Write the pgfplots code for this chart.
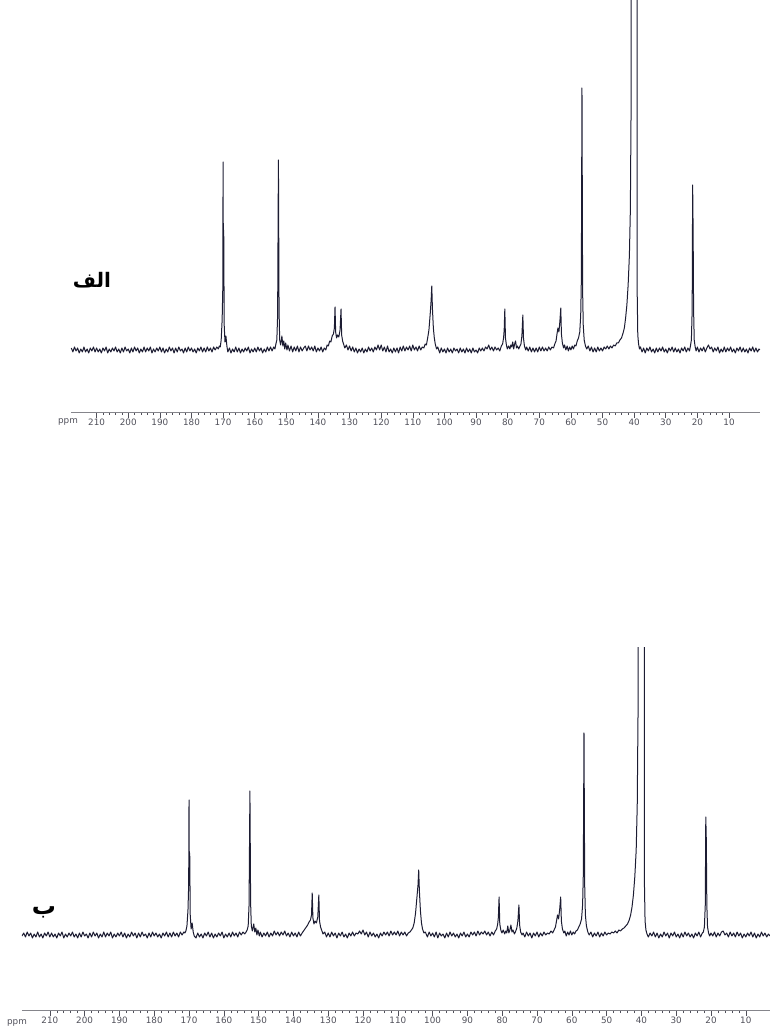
\documentclass[border=0pt]{standalone}
\usepackage{pgfplots}
\pgfplotsset{compat=1.18}
\usepackage{fontspec}
\setsansfont{DejaVu Sans}
\newfontfamily\arabicfont[Script=Arabic]{DejaVu Sans}
\TeXXeTstate=1
\definecolor{spec}{RGB}{28,28,50}
\definecolor{tickc}{RGB}{80,80,90}
\pgfplotsset{nmr/.style={
  scale only axis, x dir=reverse, clip=true,
  axis line style={draw=none},
  ytick=\empty, xtick pos=left, tick align=outside,
  xtick={10,20,...,210}, minor x tick num=4,
  major tick length=6pt, minor tick length=3pt,
  tick style={tickc, line width=0.55pt},
  /pgf/number format/assume math mode=true,
  xticklabel style={font=\sffamily\fontsize{8.8}{9}\selectfont, text=tickc, inner sep=1.2pt},
  extra description/.code={\draw[tickc!70, line width=0.4pt] (rel axis cs:0,0) -- (rel axis cs:1,0);},
}}
\begin{document}
\begin{tikzpicture}[x=1pt,y=1pt]
\useasboundingbox (0,0) rectangle (770,1031);
% ---------- top spectrum ----------
\begin{axis}[nmr, at={(71pt,619pt)}, anchor=south west,
  width=689pt, height=412pt, xmin=0.2, xmax=218.1, ymin=-62, ymax=350]
\addplot[spec, line width=1pt, line join=round] coordinates {
(218,2)(217.5,-2)(217,3)(216.5,-1)(216,2)(215.5,-3)(215,1)(214.5,-2)(214,3)(213.5,-2)(213,1)(212.5,-3)(212,2)(211.5,-1)(211,3)(210.5,-2)(210,2)(209.5,-2)(209,1)(208.5,-3)(208,2)(207.5,-1)(207,3)(206.5,-3)(206,1)(205.5,-2)(205,2)(204.5,-1)(204,3)(203.5,-2)(203,1)(202.5,-3)(202,2)(201.5,-2)(201,3)(200.5,-1)(200,1)(199.5,-3)(199,2)(198.5,-2)(198,3)(197.5,-1)(197,2)(196.5,-3)(196,1)(195.5,-2)(195,3)(194.5,-2)(194,2)(193.5,-1)(193,3)(192.5,-3)(192,1)(191.5,-2)(191,2)(190.5,-1)(190,3)(189.5,-2)(189,2)(188.5,-3)(188,1)(187.5,-2)(187,3)(186.5,-1)(186,2)(185.5,-3)(185,2)(184.5,-2)(184,3)(183.5,-1)(183,1)(182.5,-3)(182,2)(181.5,-2)(181,3)(180.5,-1)(180,2)(179.5,-2)(179,1)(178.5,-3)(178,2)(177.5,-1)(177,3)(176.5,-2)(176,2)(175.5,-2)(175,3)(174.5,-1)(174,2)(173.5,-2)(173,3)(172.5,0)(172,3)(171.5,1)(171.2,4)
(170.9,3)(170.6,10)(170.3,30)(170.1,60)(170.0,188)(169.9,70)(169.8,120)(169.65,25)(169.4,8)(169.1,14)(168.8,4)(168.5,-2)
(168,2)(167.5,-3)(167,1)(166.5,-2)(166,3)(165.5,-2)(165,2)(164.5,-3)(164,1)(163.5,-2)(163,2)(162.5,-1)(162,3)(161.5,-3)(161,1)(160.5,-2)(160,2)(159.5,-2)(159,3)(158.5,-1)(158,2)(157.5,-3)(157,1)(156.5,-2)(156,3)(155.5,-1)(155,3)(154.5,-1)(154,3)(153.6,1)
(153.3,6)(153.0,10)(152.75,35)(152.5,190)(152.3,40)(152.1,10)(151.8,5)(151.4,14)(151.1,4)(150.8,9)(150.5,1)(150.2,7)(149.8,0)
(149.5,5)(149,-1)(148.5,4)(148,-2)(147.5,3)(147,-1)(146.5,4)(146,-2)(145.5,3)(145,-1)(144.5,2)(144,4)(143.5,-1)(143,4)(142.5,0)(142,3)(141.5,-1)(141,4)(140.5,-2)(140,2)(139.5,-1)(139,3)(138.5,-2)(138,2)(137.5,0)
(137.1,5)(136.7,4)(136.3,9)(135.9,8)(135.5,14)(135.1,16)(134.8,22)(134.6,43)(134.4,18)(134.1,12)(133.8,15)(133.4,13)(133.0,20)(132.7,41)(132.5,15)(132.2,9)(131.9,6)(131.5,2)
(131,5)(130.5,0)(130,4)(129.5,-1)(129,3)(128.5,-2)(128,2)(127.5,-3)(127,1)(126.5,-2)(126,2)(125.5,-3)(125,1)(124.5,-2)(124,3)(123.5,-1)(123,2)(122.5,-2)(122,3)(121.5,0)(121,5)(120.5,0)(120,5)(119.5,-1)(119,3)(118.5,-2)(118,4)(117.5,-2)(117,1)(116.5,-3)(116,2)(115.5,-2)(115,2)(114.5,-3)(114,3)(113.5,-1)(113,4)(112.5,-1)(112,3)(111.5,0)(111,4)(110.5,-1)(110,5)(109.5,0)(109,3)(108.5,-1)(108,4)(107.5,0)(107,3)
(106.5,2)(106.1,6)(105.7,5)(105.3,12)(104.9,20)(104.5,36)(104.2,50)(104.0,64)(103.8,42)(103.5,22)(103.2,12)(102.9,6)(102.5,1)(102.1,3)
(101.5,-3)(101,2)(100.5,-2)(100,1)(99.5,-3)(99,2)(98.5,-2)(98,1)(97.5,-3)(97,2)(96.5,-1)(96,1)(95.5,-3)(95,2)(94.5,-2)(94,1)(93.5,-3)(93,2)(92.5,-2)(92,1)(91.5,-3)(91,2)(90.5,-2)(90,0)(89.5,-3)(89,2)(88.5,-1)(88,2)(87.5,-1)(87,3)(86.5,1)(86,5)(85.5,0)(85,3)(84.5,-1)(84,3)(83.5,0)(83,2)(82.5,-1)(82,4)
(81.6,6)(81.3,12)(81.1,20)(80.9,41)(80.7,12)(80.4,5)(80.1,1)(79.7,4)(79.3,1)(79,5)(78.7,3)(78.4,8)(78.1,1)(77.8,6)(77.5,9)(77.2,2)(76.9,4)(76.5,1)(76.1,4)(75.8,6)(75.5,14)(75.2,35)(75.0,12)(74.7,4)(74.3,0)
(74,3)(73.5,-1)(73,3)(72.5,-2)(72,2)(71.5,-2)(71,2)(70.5,-2)(70,3)(69.5,-1)(69,3)(68.5,-1)(68,2)(67.5,-1)(67,3)(66.5,0)(66,3)(65.5,2)
(65.1,6)(64.7,9)(64.4,16)(64.1,22)(63.8,18)(63.5,28)(63.2,42)(63.0,16)(62.7,7)(62.3,2)(62,5)(61.6,0)(61.2,4)(60.8,-1)(60.4,3)(60,0)(59.6,4)(59.2,1)(58.8,5)(58.4,4)(58.0,9)(57.6,12)(57.2,18)(56.9,35)(56.7,70)(56.5,262)(56.3,60)(56.1,25)(55.8,10)(55.4,4)(55,1)
(54.5,4)(54,-1)(53.5,3)(53,-2)(52.5,2)(52,-2)(51.5,3)(51,-1)(50.5,2)(50,-1)(49.5,3)(49,1)(48.5,4)(48,1)(47.5,4)(47,2)
(46.5,5)(46,4)(45.5,7)(45,7)(44.5,10)(44,12)(43.5,17)(43.1,22)(42.7,32)(42.3,45)(41.9,65)(41.5,95)(41.2,140)(40.95,250)(40.75,2000)(40.0,1500)(39.2,2000)(39.05,60)(38.85,15)(38.6,6)(38.3,1)
(38,3)(37.5,-2)(37,2)(36.5,-3)(36,2)(35.5,-1)(35,3)(34.5,-2)(34,1)(33.5,-3)(33,2)(32.5,-2)(32,2)(31.5,-1)(31,3)(30.5,-2)(30,1)(29.5,-3)(29,2)(28.5,-1)(28,3)(27.5,-2)(27,2)(26.5,-2)(26,1)(25.5,-3)(25,2)(24.5,-1)(24,3)(23.5,-2)(23,2)(22.5,-1)
(22.2,4)(21.9,10)(21.65,40)(21.5,165)(21.35,120)(21.2,40)(21.0,10)(20.7,3)(20.4,-1)
(20,3)(19.5,-2)(19,2)(18.5,-1)(18,3)(17.5,-2)(17,2)(16.5,5)(16,1)(15.5,3)(15,-2)(14.5,2)(14,-1)(13.5,3)(13,-3)(12.5,1)(12,-2)(11.5,3)(11,-2)(10.5,2)(10,-1)(9.5,3)(9,-2)(8.5,1)(8,-3)(7.5,2)(7,-1)(6.5,3)(6,-2)(5.5,2)(5,-2)(4.5,1)(4,-3)(3.5,2)(3,-1)(2.5,3)(2,-2)(1.5,2)(1,-2)(0.5,1)(0.2,0)
};
\end{axis}
% ---------- bottom spectrum ----------
\begin{axis}[nmr, at={(22pt,21pt)}, anchor=south west,
  width=748pt, height=362pt, xmin=3.05, xmax=218.0, ymin=-75, ymax=287]
\addplot[spec, line width=1pt, line join=round] coordinates {
(218,-1)(217.5,2)(217,-2)(216.5,3)(216,-1)(215.5,2)(215,-3)(214.5,1)(214,-2)(213.5,3)(213,-2)(212.5,1)(212,-3)(211.5,2)(211,-1)(210.5,3)(210,-2)(209.5,2)(209,-2)(208.5,1)(208,-3)(207.5,2)(207,-1)(206.5,3)(206,-3)(205.5,1)(205,-2)(204.5,2)(204,-1)(203.5,3)(203,-2)(202.5,1)(202,-3)(201.5,2)(201,-2)(200.5,3)(200,-1)(199.5,1)(199,-3)(198.5,2)(198,-2)(197.5,3)(197,-1)(196.5,2)(196,-3)(195.5,1)(195,-2)(194.5,3)(194,-2)(193.5,2)(193,-1)(192.5,3)(192,-3)(191.5,1)(191,-2)(190.5,2)(190,-1)(189.5,3)(189,-2)(188.5,2)(188,-3)(187.5,1)(187,-2)(186.5,3)(186,-1)(185.5,2)(185,-3)(184.5,2)(184,-2)(183.5,3)(183,-1)(182.5,1)(182,-3)(181.5,2)(181,-2)(180.5,3)(180,-1)(179.5,2)(179,-2)(178.5,1)(178,-3)(177.5,2)(177,-1)(176.5,3)(176,-2)(175.5,2)(175,-2)(174.5,3)(174,-1)(173.5,2)(173,-2)(172.5,3)(172,0)(171.5,3)(171.2,2)
(170.9,4)(170.6,9)(170.3,25)(170.1,50)(170.0,135)(169.9,55)(169.8,82)(169.65,20)(169.4,6)(169.1,12)(168.8,3)(168.5,-1)
(168,-3)(167.5,2)(167,-2)(166.5,1)(166,-3)(165.5,2)(165,-1)(164.5,3)(164,-2)(163.5,2)(163,-3)(162.5,1)(162,-2)(161.5,2)(161,-1)(160.5,3)(160,-3)(159.5,1)(159,-2)(158.5,2)(158,-2)(157.5,3)(157,-1)(156.5,2)(156,-2)(155.5,3)(155,0)(154.5,3)(154,1)(153.6,3)
(153.3,5)(153.0,9)(152.75,30)(152.5,144)(152.3,32)(152.1,9)(151.8,4)(151.4,11)(151.1,3)(150.8,7)(150.5,0)(150.2,5)(149.8,-1)
(149.5,3)(149,-2)(148.5,2)(148,-1)(147.5,3)(147,-2)(146.5,2)(146,-1)(145.5,4)(145,0)(144.5,3)(144,-1)(143.5,3)(143,0)(142.5,4)(142,-1)(141.5,2)(141,-2)(140.5,3)(140,-1)(139.5,2)(139,-2)(138.5,3)(138,-1)(137.5,2)
(137.1,4)(136.7,6)(136.3,8)(135.9,10)(135.5,13)(135.1,15)(134.8,20)(134.6,42)(134.4,17)(134.1,11)(133.8,14)(133.4,12)(133.0,18)(132.7,40)(132.5,14)(132.2,8)(131.9,5)(131.5,1)
(131,3)(130.5,-2)(130,2)(129.5,-2)(129,3)(128.5,-1)(128,2)(127.5,-3)(127,2)(126.5,-1)(126,3)(125.5,-2)(125,1)(124.5,-3)(124,2)(123.5,-1)(123,3)(122.5,-1)(122,2)(121.5,1)(121,4)(120.5,1)(120,5)(119.5,0)(119,3)(118.5,-2)(118,3)(117.5,-1)(117,2)(116.5,-2)(116,1)(115.5,-3)(115,2)(114.5,-1)(114,3)(113.5,0)(113,3)(112.5,-1)(112,4)(111.5,0)(111,3)(110.5,0)(110,4)(109.5,-1)(109,3)(108.5,0)(108,3)(107.5,-1)(107,2)
(106.5,3)(106.1,5)(105.7,7)(105.3,12)(104.9,22)(104.5,38)(104.2,50)(104.0,65)(103.8,44)(103.5,24)(103.2,12)(102.9,6)(102.5,2)(102.1,3)
(101.5,-2)(101,3)(100.5,-1)(100,2)(99.5,-2)(99,3)(98.5,-3)(98,2)(97.5,-1)(97,1)(96.5,-3)(96,2)(95.5,-2)(95,3)(94.5,-1)(94,2)(93.5,-2)(93,1)(92.5,-3)(92,2)(91.5,-1)(91,3)(90.5,-2)(90,1)(89.5,-2)(89,3)(88.5,0)(88,3)(87.5,-1)(87,4)(86.5,0)(86,3)(85.5,1)(85,4)(84.5,0)(84,3)(83.5,-1)(83,3)(82.5,0)(82,4)
(81.6,6)(81.3,11)(81.1,18)(80.9,38)(80.7,11)(80.4,5)(80.1,2)(79.7,5)(79.3,1)(79,4)(78.7,2)(78.4,9)(78.1,2)(77.8,5)(77.5,10)(77.2,3)(76.9,5)(76.5,1)(76.1,4)(75.8,7)(75.5,14)(75.2,30)(75.0,10)(74.7,3)(74.3,0)
(74,2)(73.5,-2)(73,3)(72.5,-1)(72,2)(71.5,-3)(71,2)(70.5,-1)(70,3)(69.5,-2)(69,2)(68.5,-1)(68,3)(67.5,0)(67,2)(66.5,1)(66,4)(65.5,2)
(65.1,5)(64.7,8)(64.4,14)(64.1,20)(63.8,16)(63.5,25)(63.2,38)(63.0,14)(62.7,6)(62.3,2)(62,4)(61.6,-1)(61.2,3)(60.8,0)(60.4,4)(60,0)(59.6,3)(59.2,1)(58.8,4)(58.4,5)(58.0,8)(57.6,11)(57.2,16)(56.9,30)(56.7,60)(56.5,202)(56.3,50)(56.1,20)(55.8,9)(55.4,3)(55,0)
(54.5,3)(54,-2)(53.5,2)(53,-1)(52.5,3)(52,-2)(51.5,2)(51,-1)(50.5,3)(50,0)(49.5,2)(49,1)(48.5,3)(48,2)(47.5,4)(47,2)
(46.5,5)(46,4)(45.5,6)(45,7)(44.5,9)(44,11)(43.5,15)(43.1,20)(42.7,28)(42.3,40)(41.9,58)(41.5,85)(41.2,130)(40.95,230)(40.75,2000)(40.0,1500)(39.3,2000)(39.15,55)(38.95,14)(38.7,5)(38.4,1)
(38,-2)(37.5,2)(37,-1)(36.5,3)(36,-2)(35.5,2)(35,-3)(34.5,1)(34,-2)(33.5,3)(33,-1)(32.5,2)(32,-3)(31.5,2)(31,-1)(30.5,3)(30,-2)(29.5,1)(29,-3)(28.5,2)(28,-2)(27.5,3)(27,-1)(26.5,2)(26,-2)(25.5,1)(25,-3)(24.5,2)(24,-1)(23.5,3)(23,-2)(22.5,2)
(22.2,3)(21.9,8)(21.65,30)(21.5,118)(21.35,95)(21.2,30)(21.0,8)(20.7,2)(20.4,-1)
(20,2)(19.5,-1)(19,3)(18.5,-2)(18,2)(17.5,-1)(17,3)(16.5,4)(16,0)(15.5,2)(15,-2)(14.5,3)(14,-1)(13.5,2)(13,-2)(12.5,3)(12,-1)(11.5,2)(11,-3)(10.5,1)(10,-2)(9.5,2)(9,-1)(8.5,3)(8,-2)(7.5,2)(7,-3)(6.5,1)(6,-2)(5.5,3)(5,-1)(4.5,2)(4,-2)(3.5,1)(3.05,-1)
};
\end{axis}
\node[font=\sffamily\fontsize{8.8}{9}\selectfont, text=tickc] at (68,609) {ppm};
\node[font=\sffamily\fontsize{8.8}{9}\selectfont, text=tickc] at (17,8) {ppm};
\node[font=\arabicfont\bfseries\fontsize{20}{24}\selectfont] at (92,751) {\beginR الف\endR};
\node[font=\arabicfont\bfseries\fontsize{24}{28}\selectfont] at (44,119) {\beginR ب\endR};
\end{tikzpicture}
\end{document}
